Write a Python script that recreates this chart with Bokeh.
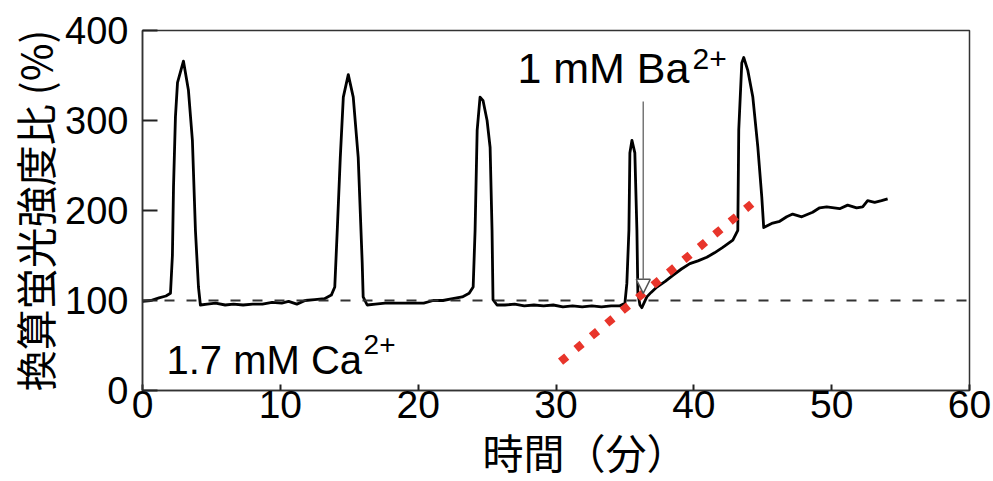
from bokeh.plotting import figure
from bokeh.models import Range1d, Span, Label, Arrow, NormalHead, FixedTicker
from bokeh.embed import file_html
from bokeh.resources import INLINE

# ---- data ----
time_min = [0.0, 0.6, 1.2, 1.7, 2.03, 2.17, 2.25, 2.39, 2.54, 2.97, 3.33, 3.62, 3.84, 4.06, 4.20,
            4.7, 5.3, 6.0, 6.6, 7.3, 8.0, 8.7, 9.4, 10.1, 10.6, 11.2, 11.8, 12.5, 13.2, 13.7, 13.95,
            14.13, 14.35, 14.57, 14.93, 15.29, 15.65, 15.94, 16.01, 16.30,
            16.9, 17.6, 18.3, 19.0, 19.7, 20.4, 21.1, 21.8, 22.5, 23.2, 23.7, 23.99,
            24.13, 24.28, 24.49, 24.71, 25.0, 25.22, 25.36, 25.43, 25.72,
            26.3, 27.0, 27.7, 28.4, 29.1, 29.8, 30.5, 31.2, 31.9, 32.6, 33.3, 34.0, 34.6, 35.0,
            35.14, 35.29, 35.36, 35.51, 35.72, 35.87, 35.94, 36.09, 36.23,
            36.59, 36.9, 37.32, 37.9, 38.48, 39.1, 39.71, 40.3, 40.94, 41.5, 42.1, 42.83, 43.19,
            43.26, 43.48, 43.62, 43.91, 44.28, 44.64, 44.93, 45.07,
            45.72, 46.23, 46.74, 47.17, 47.83, 48.62, 49.13, 49.64, 50.58, 51.16, 51.81, 52.25,
            52.61, 53.12, 53.62, 54.06]
ratio_pct = [99, 100, 103, 105, 108, 150, 226, 304, 342, 366, 334, 278, 178, 115, 95,
             96, 97, 95, 96, 95, 96, 96, 98, 97, 99, 96, 100, 101, 102, 106, 115,
             178, 259, 326, 351, 326, 259, 142, 104, 95,
             96, 97, 97, 97, 97, 97, 100, 100, 102, 104, 108, 115,
             178, 289, 326, 322, 300, 270, 178, 101, 95,
             95, 96, 94, 95, 94, 95, 93, 94, 93, 94, 93, 94, 94, 97,
             119, 178, 264, 278, 264, 178, 108, 95, 92,
             104, 109, 115, 121, 128, 135, 141, 144, 148, 153, 159, 167, 178,
             290, 364, 370, 356, 326, 271, 215, 181,
             186, 188, 193, 196, 193, 198, 203, 204, 202, 206, 203, 204,
             211, 209, 211, 213]

trend_t = [30.33, 44.72]
trend_v = [32, 214]

baseline_level = 100
x_ticks = [0, 10, 20, 30, 40, 50, 60]
y_ticks = [0, 100, 200, 300, 400]

x_label = "時間（分）"
y_label = "換算蛍光強度比 (%)"

TICK_FONT = "Liberation Sans"
CJK_FONT = "Noto Sans CJK JP"

p = figure(width=993, height=481, output_backend="svg", toolbar_location=None,
           x_range=Range1d(0, 60), y_range=Range1d(0, 400),
           min_border_left=142, min_border_right=24, min_border_top=30, min_border_bottom=91)

p.xgrid.visible = False
p.ygrid.visible = False
p.background_fill_color = "white"
p.border_fill_color = "white"
p.outline_line_color = "#333333"
p.outline_line_width = 1.5

for ax, ticks, tick_in in ((p.xaxis[0], x_ticks, 6), (p.yaxis[0], y_ticks, 15)):
    ax.ticker = FixedTicker(ticks=ticks)
    ax.major_tick_in = tick_in
    ax.major_tick_out = 0
    ax.minor_tick_line_color = None
    ax.major_tick_line_width = 2
    ax.major_tick_line_color = "#222222"
    ax.axis_line_color = "#333333"
    ax.axis_line_width = 1.5
    ax.major_label_text_font = TICK_FONT
    ax.major_label_text_color = "black"

p.xaxis.major_label_text_font_size = "39px"
p.yaxis.major_label_text_font_size = "38px"
p.xaxis.major_label_standoff = 0
p.yaxis.major_label_standoff = 14

p.yaxis.axis_label = y_label
p.yaxis.axis_label_text_font = CJK_FONT
p.yaxis.axis_label_text_font_size = "41px"
p.yaxis.axis_label_text_font_style = "normal"
p.yaxis.axis_label_text_color = "black"
p.yaxis.axis_label_standoff = -2

# x-axis title placed as a label in the bottom panel
p.add_layout(Label(x=32.1, y=-67.3, text=x_label, text_font=CJK_FONT, text_font_size="41px",
                   text_color="black", text_align="center", text_baseline="alphabetic"), "below")

# baseline
p.add_layout(Span(location=baseline_level, dimension="width", line_color="#333333",
                  line_width=2, line_dash="10 12"))

# trace
p.line(time_min, ratio_pct, line_color="black", line_width=2.8, line_join="round")

# red dotted trend
p.line(trend_t, trend_v, line_color="#e8352b", line_width=8, line_dash="8 12")

# Ba arrow
p.add_layout(Arrow(x_start=36.33, y_start=321, x_end=36.33, y_end=108,
                   line_color="#777777", line_width=1.5,
                   end=NormalHead(size=14, fill_color="white", line_color="#555555", line_width=1.5)))

# texts
p.add_layout(Label(x=27.2, y=358.7, text="1 mM Ba", text_font="Liberation Sans",
                   text_font_size="43px", text_color="black", text_baseline="alphabetic"))
p.add_layout(Label(x=39.9, y=368.5, text="2+", text_font="Liberation Sans",
                   text_font_size="30px", text_color="black", text_baseline="alphabetic"))
p.add_layout(Label(x=1.74, y=33.9, text="1.7 mM Ca", text_font="Liberation Sans",
                   text_font_size="40px", text_color="black", text_baseline="alphabetic"))
p.add_layout(Label(x=16.04, y=50.6, text="2+", text_font="Liberation Sans",
                   text_font_size="28px", text_color="black", text_baseline="alphabetic"))

open("out.html", "w").write(file_html(p, INLINE))
